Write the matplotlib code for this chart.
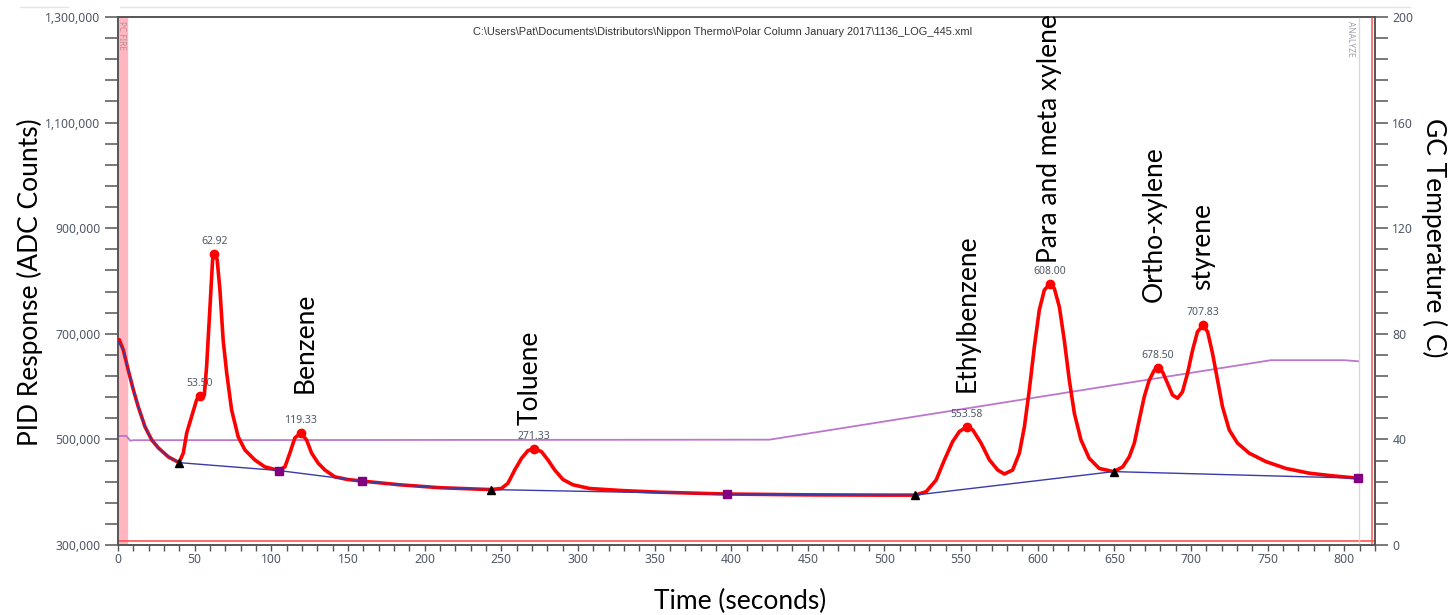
import matplotlib
matplotlib.use("Agg")
import matplotlib.pyplot as plt
from matplotlib.ticker import MultipleLocator, FuncFormatter
from matplotlib.lines import Line2D

# PID trace (seconds, ADC counts)
time_s = [0, 0.8, 3.5, 6.7, 10.0, 13.2, 17.6, 22.0, 26.3, 32.8, 39.8, 42.6, 44.8, 48.0,
          51.3, 53.5, 56.3, 57.8, 60.0, 61.7, 62.9, 64.7, 66.5, 68.6, 70.9, 74.1, 78.4,
          82.8, 89.3, 95.8, 105.0, 108.9, 112.1, 115.4, 119.3, 123.0, 126.3, 130.6, 135.0,
          141.5, 150, 159.3, 183.8, 209.9, 243.0, 250.1, 254.4, 258.8, 263.2, 267.5, 271.3,
          276.2, 280.5, 284.9, 290.3, 296.8, 307.7, 329.4, 353.3, 397.0, 450, 500, 520,
          527.2, 533.7, 539.1, 544.5, 548.9, 553.6, 557.6, 563.0, 568.5, 573.9, 578.2,
          583.6, 588.0, 591.3, 594.5, 597.8, 601.0, 604.3, 608.0, 610.8, 614.1, 617.3,
          620.6, 623.9, 628.2, 633.6, 640.1, 649.5, 655.4, 659.7, 663.0, 666.2, 669.5,
          672.7, 676.0, 678.5, 681.4, 684.7, 687.9, 691.2, 694.4, 697.7, 701.0, 704.2,
          707.8, 710.8, 714.0, 717.3, 720.5, 724.9, 730.3, 737.9, 748.8, 761.9, 777.1,
          792.2, 809.2]
response = [686000, 689000, 669000, 631000, 594000, 562000, 524000, 499000, 484000, 467000,
            456000, 474000, 512000, 543000, 575000, 582000, 584000, 638000, 751000, 840000,
            852000, 840000, 783000, 688000, 626000, 556000, 505000, 480000, 461000, 448000,
            441000, 448000, 474000, 503000, 512000, 499000, 474000, 455000, 442000, 429000,
            424000, 421000, 414000, 408500, 405000, 407000, 417000, 442000, 464000, 479000,
            482000, 477000, 461000, 442000, 424000, 414000, 407000, 403000, 400000, 396500,
            395000, 394500, 394500, 401000, 423000, 461000, 496000, 515000, 523500, 518000,
            493000, 461000, 442000, 434500, 442000, 474000, 524000, 594000, 676000, 745000,
            783000, 794500, 786000, 751000, 688000, 612000, 549000, 499000, 464000, 445000,
            439000, 448000, 467000, 493000, 537000, 581000, 612000, 631000, 636000, 628000,
            606000, 584000, 578000, 590000, 625000, 669000, 704000, 716000, 704000, 663000,
            612000, 562000, 518000, 493000, 474000, 458000, 445000, 436000, 431000, 426500]

# integration baseline
base_t = [0, 3.5, 6.7, 10.0, 13.2, 17.6, 22.0, 26.3, 32.8, 39.8, 105.0, 159.3, 183.8,
          209.9, 243.0, 397.0, 520.0, 649.5, 809.2]
base_v = [686000, 669000, 631000, 594000, 562000, 524000, 499000, 484000, 467000, 456000,
          441000, 421000, 414000, 408500, 405000, 396500, 394500, 439000, 426500]

# peak apexes
peak_t = [53.50, 62.92, 119.33, 271.33, 553.58, 608.00, 678.50, 707.83]
peak_v = [582000, 852000, 512000, 482000, 523500, 794500, 636000, 716000]

# peak start/end markers
tri_t = [39.8, 243.0, 520.0, 649.5]
tri_v = [456000, 405000, 394500, 439000]
sq_t = [105.0, 159.3, 397.0, 809.2]
sq_v = [441000, 421000, 396500, 426500]

# column temperature
temp_t = [0, 5.5, 8, 10, 425, 752, 800, 809]
temp_c = [41.3, 41.3, 39.5, 39.7, 39.9, 70.0, 70.0, 69.6]

compounds = ["Benzene", "Toluene", "Ethylbenzene", "Para and meta xylene",
             "Ortho-xylene", "styrene"]
compound_t = [121.9, 268.6, 554.0, 607.6, 676.0, 707.3]
compound_v = [588000, 527000, 590000, 834000, 760000, 783000]

pid_ticks = list(range(300000, 1300001, 200000))
pid_minor = list(range(300000, 1300001, 40000))

file_path = r"C:\Users\Pat\Documents\Distributors\Nippon Thermo\Polar Column January 2017\1136_LOG_445.xml"

W, H = 1450, 615
fig = plt.figure(figsize=(W / 100, H / 100), dpi=100)
ax = fig.add_axes([118 / W, 1 - 545 / H, (1375 - 118) / W, (545 - 17) / H])
ax2 = ax.twinx()
ax.set_zorder(ax2.get_zorder() + 1)
ax.patch.set_visible(False)

tick_col = "#4f5866"
spine_col = "#555555"
tick_font = "Noto Sans"

# temperature axis (behind)
ax2.axvspan(0, 6.1, color="#ffb6c1", zorder=0)
ax2.plot(temp_t, temp_c, color="#bb77cc", lw=1.3, zorder=2)
ax2.set_ylim(0, 200)
ax2.yaxis.set_major_locator(MultipleLocator(40))
ax2.yaxis.set_minor_locator(MultipleLocator(8))

# PID axis
ax.axhline(308000, color="#ff5050", lw=1.2, zorder=1)
ax.axvline(809.7, color="#d8d8d8", lw=1.0, zorder=1)
ax.axvline(818.2, color="#ff6060", lw=1.2, zorder=1)
ax.plot(time_s, response, color="#ff0000", lw=2.6, zorder=3, solid_joinstyle="round")
ax.plot(base_t, base_v, color="#3a3aa8", lw=1.0, zorder=4)
ax.plot(peak_t, peak_v, "o", color="#ff0000", ms=6, zorder=5)
ax.plot(tri_t, tri_v, "^", color="black", ms=5.5, zorder=5)
ax.plot(sq_t, sq_v, "s", color="#800080", ms=5.5, zorder=5)

for t, v in zip(peak_t, peak_v):
    ax.annotate(f"{t:.2f}", (t, v), xytext=(0, 5), textcoords="offset points",
                ha="center", va="bottom", fontsize=7.5, color=tick_col, family=tick_font)

for name, t, v in zip(compounds, compound_t, compound_v):
    ax.text(t, v, name, rotation=90, ha="center", va="bottom", fontsize=19,
            family="Lato", color="black", zorder=6)

ax.text(2.6, 1292000, "PC FIRE", rotation=270, ha="center", va="top", fontsize=6,
        color="#c09098", family=tick_font)
ax.text(803.8, 1292000, "ANALYZE", rotation=270, ha="center", va="top", fontsize=6,
        color="#a0a0aa", family=tick_font)
ax.text(0.481, 0.9716, file_path, transform=ax.transAxes, ha="center", va="center",
        fontsize=7.9, color="#333333", family="Liberation Sans")

ax.set_xlim(0, 820)
ax.set_ylim(300000, 1300000)
ax.xaxis.set_major_locator(MultipleLocator(50))
ax.xaxis.set_minor_locator(MultipleLocator(10))
ax.set_yticks(pid_ticks)
ax.set_yticks(pid_minor, minor=True)
ax.yaxis.set_major_formatter(FuncFormatter(lambda v, p: f"{int(v):,}"))

for a in (ax, ax2):
    for s in a.spines.values():
        s.set_color(spine_col)
        s.set_linewidth(1.2)

ax.tick_params(axis="y", which="both", length=9.5, width=1.1, color=spine_col,
               labelsize=8.8, labelcolor=tick_col, pad=3)
ax.tick_params(axis="x", which="both", length=4, width=1.0, color=spine_col,
               labelsize=8.8, labelcolor=tick_col, pad=2)
ax2.tick_params(axis="y", which="both", length=9.5, width=1.1, color=spine_col,
                labelsize=8.8, labelcolor=tick_col, pad=3)
for lab in ax.get_xticklabels() + ax.get_yticklabels() + ax2.get_yticklabels():
    lab.set_family(tick_font)

fig.text(30 / W, 1 - 282 / H, "PID Response (ADC Counts)", rotation=90, ha="center",
         va="center", fontsize=19, family="Lato")
fig.text(1434 / W, 1 - 238 / H, "GC Temperature ( C)", rotation=270, ha="center",
         va="center", fontsize=19, family="Lato")
fig.text(740 / W, 1 - 601 / H, "Time (seconds)", ha="center", va="center",
         fontsize=19, family="Lato")

# window frame line above the chart
fig.add_artist(Line2D([20 / W, 68 / W], [1 - 7 / H] * 2, color="#e4e4e4", lw=1))
fig.add_artist(Line2D([120 / W, 1410 / W], [1 - 7 / H] * 2, color="#e4e4e4", lw=1))

fig.savefig("out.png", dpi=100)
